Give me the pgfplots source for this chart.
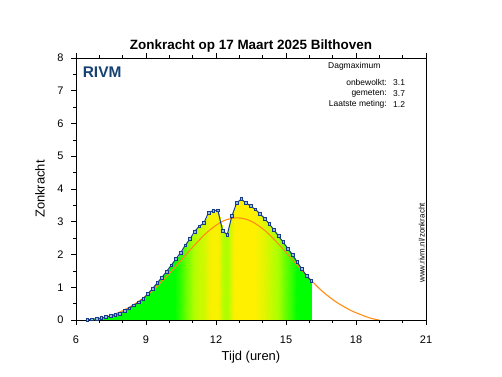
\documentclass[border=0pt]{standalone}
\usepackage{fontspec}
\setmainfont{Liberation Sans}
\usepackage{pgfplots}
\pgfplotsset{compat=1.18}
\usepackage{pgfplotstable}
\definecolor{rivmblue}{RGB}{21,66,115}
\definecolor{meas}{RGB}{25,60,135}
\definecolor{measfill}{RGB}{150,185,225}
\definecolor{clearsky}{RGB}{255,140,20}

\pgfplotstableread{
t v
6.48 0.00
6.68 0.02
6.88 0.04
7.08 0.06
7.28 0.09
7.48 0.12
7.68 0.16
7.88 0.20
8.08 0.27
8.28 0.36
8.48 0.45
8.68 0.54
8.88 0.65
9.08 0.80
9.28 0.96
9.48 1.13
9.68 1.30
9.88 1.48
10.08 1.67
10.28 1.86
10.48 2.05
10.68 2.28
10.88 2.47
11.08 2.70
11.28 2.86
11.48 2.96
11.68 3.28
11.88 3.34
12.08 3.35
12.28 2.73
12.48 2.60
12.68 3.17
12.88 3.57
13.08 3.69
13.28 3.58
13.48 3.48
13.68 3.38
13.88 3.25
14.08 3.10
14.28 2.94
14.48 2.75
14.68 2.56
14.88 2.38
15.08 2.18
15.28 1.98
15.48 1.77
15.68 1.56
15.88 1.35
16.08 1.20
}\measured

\pgfplotstableread{
t v
6.80 0.00
6.90 0.01
7.15 0.05
7.40 0.11
7.65 0.18
7.90 0.25
8.15 0.34
8.40 0.44
8.65 0.55
8.90 0.68
9.15 0.82
9.40 0.98
9.65 1.16
9.90 1.34
10.15 1.54
10.40 1.74
10.65 1.94
10.90 2.15
11.15 2.34
11.40 2.53
11.65 2.70
11.90 2.84
12.15 2.96
12.40 3.05
12.65 3.10
12.90 3.12
13.15 3.10
13.40 3.05
13.65 2.96
13.90 2.84
14.15 2.70
14.40 2.53
14.65 2.34
14.90 2.15
15.15 1.94
15.40 1.74
15.65 1.54
15.90 1.34
16.15 1.16
16.40 0.98
16.65 0.82
16.90 0.68
17.15 0.55
17.40 0.44
17.65 0.34
17.90 0.25
18.15 0.18
18.40 0.11
18.65 0.05
18.90 0.01
19.00 0.00
}\clearskydata

\begin{document}
\begin{tikzpicture}
\useasboundingbox (0,0) rectangle (502bp,377bp);
\begin{axis}[
  at={(76bp,57bp)}, anchor=south west,
  scale only axis, width=350bp, height=262bp,
  xmin=6, xmax=21, ymin=0, ymax=8,
  xtick={6,9,...,21}, ytick={0,1,...,8},
  minor x tick num=2, minor y tick num=1,
  tick align=outside, ytick pos=left, xtick pos=both, xticklabel pos=bottom,
  major tick length=5bp, minor tick length=3bp,
  tick style={black, line width=0.6bp},
  axis line style={line width=0.8bp},
  tick label style={font=\fontsize{11}{13}\selectfont},
  xticklabel style={yshift=-7bp},
  yticklabel style={xshift=-4bp},
  /pgf/number format/assume math mode=true,
  xlabel={Tijd (uren)}, ylabel={Zonkracht},
  label style={font=\fontsize{13}{15}\selectfont},
  xlabel style={at={(axis description cs:0.5,-0.1431)}, anchor=center},
  ylabel style={at={(axis description cs:-0.1029,0.5)}, anchor=center},
  title={\bfseries Zonkracht op 17 Maart 2025 Bilthoven},
  title style={font=\fontsize{13.5}{16}\selectfont, at={(axis description cs:0.5,1)}, anchor=base, yshift=3bp},
  colormap={uv}{rgb255(0)=(0,255,0) rgb255(18)=(0,255,0) rgb255(26)=(170,255,0) rgb255(34)=(255,240,0) rgb255(37)=(255,240,0)},
  point meta min=0, point meta max=3.7,
  axis on top,
]
\addplot[surf, shader=interp, mesh/rows=2, mesh/cols=49, point meta=explicit] table[x=t, y=y, meta=c] {
t y c
6.48 0 0.00
6.68 0 0.02
6.88 0 0.04
7.08 0 0.06
7.28 0 0.09
7.48 0 0.12
7.68 0 0.16
7.88 0 0.20
8.08 0 0.27
8.28 0 0.36
8.48 0 0.45
8.68 0 0.54
8.88 0 0.65
9.08 0 0.80
9.28 0 0.96
9.48 0 1.13
9.68 0 1.30
9.88 0 1.48
10.08 0 1.67
10.28 0 1.86
10.48 0 2.05
10.68 0 2.28
10.88 0 2.47
11.08 0 2.70
11.28 0 2.86
11.48 0 2.96
11.68 0 3.28
11.88 0 3.34
12.08 0 3.35
12.28 0 2.73
12.48 0 2.60
12.68 0 3.17
12.88 0 3.57
13.08 0 3.69
13.28 0 3.58
13.48 0 3.48
13.68 0 3.38
13.88 0 3.25
14.08 0 3.10
14.28 0 2.94
14.48 0 2.75
14.68 0 2.56
14.88 0 2.38
15.08 0 2.18
15.28 0 1.98
15.48 0 1.77
15.68 0 1.56
15.88 0 1.35
16.08 0 1.20

6.48 0.00 0.00
6.68 0.02 0.02
6.88 0.04 0.04
7.08 0.06 0.06
7.28 0.09 0.09
7.48 0.12 0.12
7.68 0.16 0.16
7.88 0.20 0.20
8.08 0.27 0.27
8.28 0.36 0.36
8.48 0.45 0.45
8.68 0.54 0.54
8.88 0.65 0.65
9.08 0.80 0.80
9.28 0.96 0.96
9.48 1.13 1.13
9.68 1.30 1.30
9.88 1.48 1.48
10.08 1.67 1.67
10.28 1.86 1.86
10.48 2.05 2.05
10.68 2.28 2.28
10.88 2.47 2.47
11.08 2.70 2.70
11.28 2.86 2.86
11.48 2.96 2.96
11.68 3.28 3.28
11.88 3.34 3.34
12.08 3.35 3.35
12.28 2.73 2.73
12.48 2.60 2.60
12.68 3.17 3.17
12.88 3.57 3.57
13.08 3.69 3.69
13.28 3.58 3.58
13.48 3.48 3.48
13.68 3.38 3.38
13.88 3.25 3.25
14.08 3.10 3.10
14.28 2.94 2.94
14.48 2.75 2.75
14.68 2.56 2.56
14.88 2.38 2.38
15.08 2.18 2.18
15.28 1.98 1.98
15.48 1.77 1.77
15.68 1.56 1.56
15.88 1.35 1.35
16.08 1.20 1.20
};
\addplot[clearsky, line width=1.1bp, smooth, no markers] table[x=t, y=v] {\clearskydata};
\addplot[meas, line width=1bp, mark=square*, mark size=1.4bp, mark options={draw=meas, fill=measfill, line width=0.6bp}] table[x=t, y=v] {\measured};
\node[anchor=west, font=\bfseries\fontsize{15.5}{18}\selectfont, text=rivmblue, inner sep=0pt] at (axis description cs:0.019,0.947) {RIVM};
\node[anchor=west, font=\fontsize{8.5}{10}\selectfont, inner sep=0pt] at (axis description cs:0.72,0.967) {Dagmaximum};
\node[anchor=east, font=\fontsize{8.5}{10}\selectfont, inner sep=0pt] at (axis description cs:0.8886,0.906) {onbewolkt:};
\node[anchor=west, font=\fontsize{8.5}{10}\selectfont, inner sep=0pt] at (axis description cs:0.9057,0.906) {3.1};
\node[anchor=east, font=\fontsize{8.5}{10}\selectfont, inner sep=0pt] at (axis description cs:0.8886,0.865) {gemeten:};
\node[anchor=west, font=\fontsize{8.5}{10}\selectfont, inner sep=0pt] at (axis description cs:0.9057,0.865) {3.7};
\node[anchor=east, font=\fontsize{8.5}{10}\selectfont, inner sep=0pt] at (axis description cs:0.8886,0.824) {Laatste meting:};
\node[anchor=west, font=\fontsize{8.5}{10}\selectfont, inner sep=0pt] at (axis description cs:0.9057,0.824) {1.2};
\node[rotate=90, anchor=center, font=\fontsize{8}{10}\selectfont, inner sep=0pt] at (axis description cs:0.9877,0.294) {www.rivm.nl/zonkracht};
\end{axis}
\end{tikzpicture}
\end{document}
